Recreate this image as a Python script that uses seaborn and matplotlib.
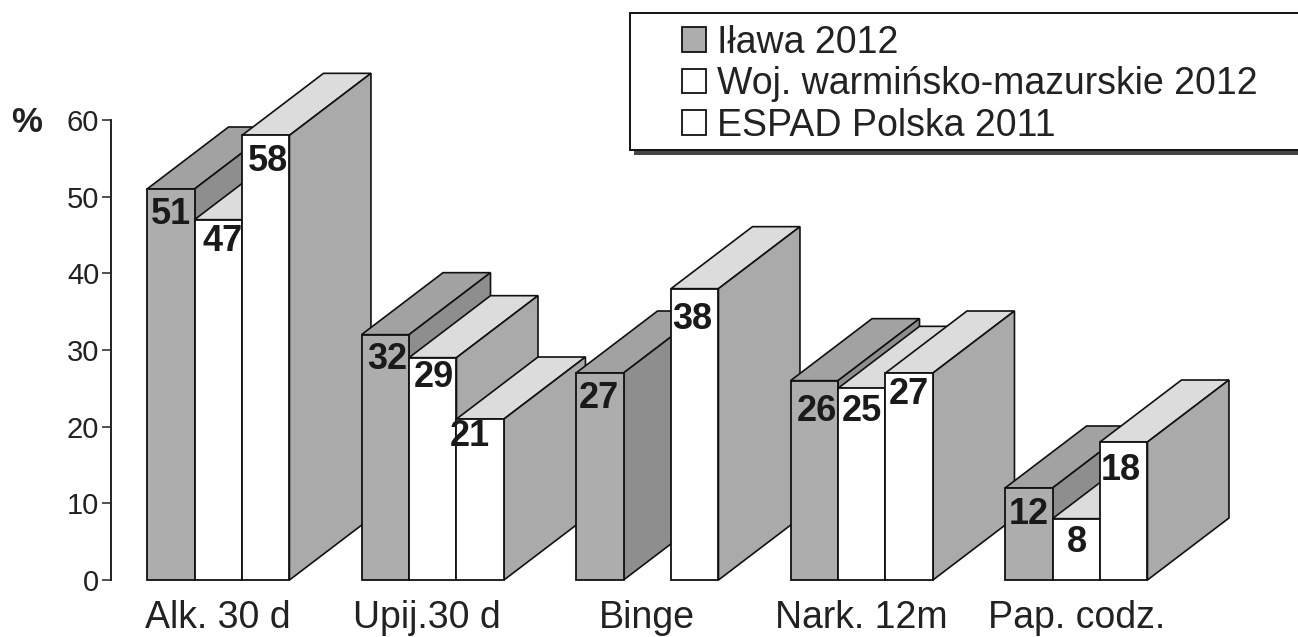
import numpy as np
import pandas as pd
import matplotlib
matplotlib.use("Agg")
import matplotlib.pyplot as plt
from matplotlib.patches import Polygon, Rectangle
from matplotlib.transforms import ScaledTranslation
import seaborn as sns

categories = ["Alk. 30 d", "Upij.30 d", "Binge", "Nark. 12m", "Pap. codz."]
series_names = ["Iława 2012", "Woj. warmińsko-mazurskie 2012", "ESPAD Polska 2011"]
ilawa = [51, 32, 27, 26, 12]
woj = [47, 29, np.nan, 25, 8]
espad = [58, 21, 38, 27, 18]

# label nudges in pixels (x, y down), the numbers sit loosely on the bars
label_shift = {
    series_names[0]: [(0, 22), (2, 22), (-1, 23), (3, 28), (0, 23)],
    series_names[1]: [(4, 19), (1, 17), (0, 0), (0, 20), (1, 21)],
    series_names[2]: [(2, 23), (-10, 14), (-2, 28), (0, 18), (-3, 26)],
}

df = pd.DataFrame({
    "kat": categories * 3,
    "seria": np.repeat(series_names, len(categories)),
    "proc": ilawa + woj + espad,
})

sns.set_theme(style="white")
plt.rcParams["font.family"] = ["Liberation Sans", "DejaVu Sans"]

W, H = 1298, 637
fig = plt.figure(figsize=(W / 100, H / 100), dpi=100)
ax = fig.add_axes([111 / W, 1 - 580 / H, (1183.5 - 111) / W, 460 / H])

sns.barplot(data=df, x="kat", y="proc", hue="seria", order=categories,
            hue_order=series_names, palette=["#adadad", "white", "white"],
            width=0.664, errorbar=None, edgecolor="#111111", linewidth=1.3,
            saturation=1, ax=ax)

ax.set_xlim(-0.5, 4.5)
ax.set_ylim(0, 60)
ax.set_xlabel("")
ax.set_ylabel("")
ax.set_yticks(range(0, 61, 10))
sns.despine(ax=ax, bottom=True)
ax.spines["left"].set_linewidth(1.4)
ax.spines["left"].set_color("#222222")
ax.tick_params(axis="y", length=6.5, width=1.1, color="#222222", labelsize=21,
               pad=2, left=True, labelcolor="#222222")
ax.tick_params(axis="x", length=0, labelsize=27, pad=14.5, labelcolor="#222222")

# Upij label sits a bit left of its group in the original
lab = ax.get_xticklabels()[1]
lab.set_transform(lab.get_transform() + ScaledTranslation(-6 / 100, 0, fig.dpi_scale_trans))

# fake 3D depth: top and side faces worked out from each bar
depth_x = 81.5 / 214.5
depth_y = 62 / (460 / 60)
bars = [p for p in ax.patches if np.isfinite(p.get_height()) and p.get_height() > 0]
bars = sorted(bars, key=lambda p: p.get_x())
for i, p in enumerate(bars):
    x0, x1, h = p.get_x(), p.get_x() + p.get_width(), p.get_height()
    grey = p.get_facecolor()[0] < 0.9
    top_col = "#a2a2a2" if grey else "#dcdcdc"
    side_col = "#8e8e8e" if grey else "#aaaaaa"
    top = [(x0, h), (x1, h), (x1 + depth_x, h + depth_y), (x0 + depth_x, h + depth_y)]
    side = [(x1, 0), (x1 + depth_x, depth_y), (x1 + depth_x, h + depth_y), (x1, h)]
    ax.add_patch(Polygon(top, fc=top_col, ec="#111111", lw=1.2, zorder=3 + i * 2, clip_on=False))
    ax.add_patch(Polygon(side, fc=side_col, ec="#111111", lw=1.2, zorder=3 + i * 2, clip_on=False))
    p.set_zorder(4 + i * 2)
    p.set_clip_on(False)

# value labels
values = {series_names[0]: ilawa, series_names[1]: woj, series_names[2]: espad}
for s_i, name in enumerate(series_names):
    for c_i, val in enumerate(values[name]):
        if np.isnan(val):
            continue
        cx = c_i + (s_i - 1) * 0.664 / 3
        sx, sy = label_shift[name][c_i]
        ax.annotate(f"{val:.0f}", xy=(cx, val), xytext=(sx, -sy - 3), textcoords="offset pixels",
                    ha="center", va="center", fontsize=26, fontweight="bold",
                    color="#1a1a1a", zorder=100, annotation_clip=False)

fig.text(27 / W, 1 - 122 / H, "%", fontsize=25, fontweight="bold", color="#222222",
         ha="center", va="center")

# legend box runs off the right edge, so frame and shadow are drawn on their own
fig.add_artist(Rectangle((634 / W, 1 - 155 / H), 700 / W, 140 / H, transform=fig.transFigure,
                         fc="#444444", ec="none"))
fig.add_artist(Rectangle((630 / W, 1 - 150 / H), 700 / W, 137 / H, transform=fig.transFigure,
                         fc="white", ec="#111111", lw=1.4))

handles, labels = ax.get_legend_handles_labels()
ax.get_legend().remove()
leg = fig.legend(handles, labels, loc="upper left",
                 bbox_to_anchor=(682 / W, 1 - 25 / H),
                 fontsize=27, frameon=False, labelcolor="#222222",
                 handlelength=0.64, handleheight=0.64, handletextpad=0.3,
                 labelspacing=0.14, borderaxespad=0, borderpad=0)

fig.savefig("out.png", dpi=100, facecolor="white")
